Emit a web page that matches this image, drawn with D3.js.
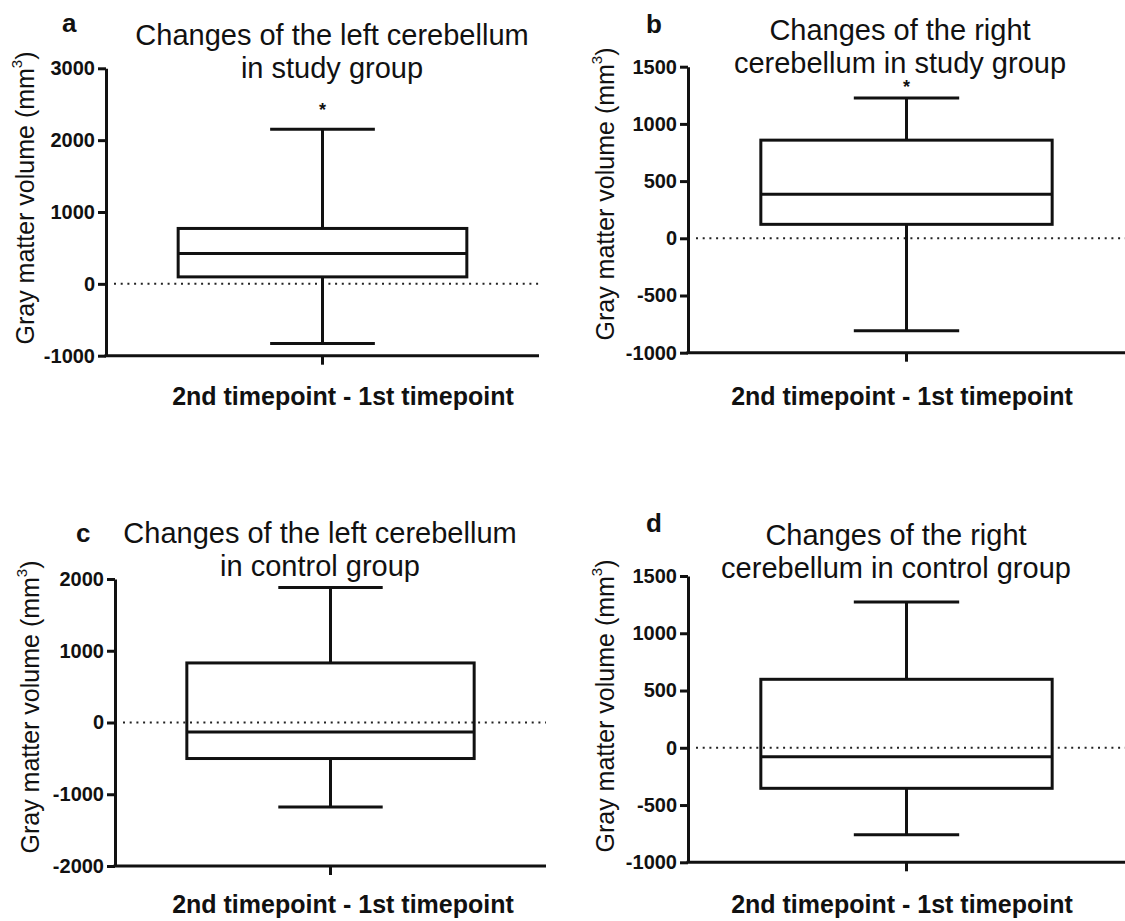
<html>
<head>
    <meta charset="utf-8">
    <title>Cerebellum gray matter volume changes</title>
    <style>
        body { margin: 0; background: #fff; }
        text { font-family: "Liberation Sans", Arial, sans-serif; fill: #111; }
    </style>
</head>
<body>
    <script src="https://d3js.org/d3.v7.min.js"></script>
    <script>
        var width = 1125, height = 921;

        // data
        const letters = ["a", "b", "c", "d"];
        const titles = [
            ["Changes of the left cerebellum", "in study group"],
            ["Changes of the right", "cerebellum in study group"],
            ["Changes of the left cerebellum", "in control group"],
            ["Changes of the right", "cerebellum in control group"]
        ];
        const category = "2nd timepoint - 1st timepoint";
        const mins = [-830, -809, -1176, -760];
        const q1s = [97, 122, -502, -354];
        const medians = [423, 384, -131, -78];
        const q3s = [771, 858, 830, 598];
        const maxs = [2150, 1227, 1881, 1272];
        const stars = [2490, 1366, null, null];
        const yDomains = [[-1000, 3000], [-1000, 1500], [-2000, 2000], [-1000, 1500]];
        const yTicks = [
            [-1000, 0, 1000, 2000, 3000],
            [-1000, -500, 0, 500, 1000, 1500],
            [-2000, -1000, 0, 1000, 2000],
            [-1000, -500, 0, 500, 1000, 1500]
        ];

        // where each panel sits on the page
        const layout = [
            { x0: 106, x1: 539, top: 68.3, bottom: 355.7, tx: 332, ty: 45, lx: 62, ly: 32, yx: 25, yy: 198, xx: 343, xy: 405 },
            { x0: 688, x1: 1125, top: 66.7, bottom: 352.7, tx: 900, ty: 40, lx: 646, ly: 33, yx: 605, yy: 194, xx: 902, xy: 405 },
            { x0: 115, x1: 546, top: 579, bottom: 866, tx: 320, ty: 543, lx: 76, ly: 542, yx: 30, yy: 707, xx: 343, xy: 913 },
            { x0: 688, x1: 1125, top: 576, bottom: 862.3, tx: 896, ty: 545, lx: 646, ly: 532, yx: 605, yy: 706, xx: 902, xy: 913 }
        ];

        var svg = d3.select("body").append("svg")
            .attr("width", width)
            .attr("height", height);

        for (var i = 0; i < 4; i++) {
            var L = layout[i];
            var g = svg.append("g");

            var y = d3.scaleLinear().domain(yDomains[i]).range([L.bottom, L.top]);
            var x = d3.scaleBand().domain([category]).range([L.x0, L.x1]).padding(0.2);
            var cx = x(category) + x.bandwidth() / 2;
            var capW = x.bandwidth() * 0.245;

            // zero line
            g.append("line")
                .attr("x1", L.x0 + 8).attr("x2", L.x1)
                .attr("y1", y(0)).attr("y2", y(0))
                .attr("stroke", "#222").attr("stroke-width", 2)
                .attr("stroke-dasharray", "2,4.7");

            // y axis
            var yAxis = g.append("g")
                .attr("transform", "translate(" + L.x0 + ",0)")
                .call(d3.axisLeft(y).tickValues(yTicks[i]).tickFormat(function (d) { return String(d); })
                    .tickSize(8).tickSizeOuter(0).tickPadding(3));
            yAxis.select(".domain").attr("stroke", "#111").attr("stroke-width", 3);
            yAxis.selectAll(".tick line").attr("stroke", "#111").attr("stroke-width", 3);
            yAxis.selectAll(".tick text")
                .attr("font-size", "20px").attr("font-weight", "bold")
                .attr("font-family", "Liberation Sans, Arial, sans-serif").attr("fill", "#111");

            // x axis
            var xAxis = g.append("g")
                .attr("transform", "translate(0," + L.bottom + ")")
                .call(d3.axisBottom(x).tickSize(9).tickSizeOuter(0).tickFormat(""));
            xAxis.select(".domain").attr("stroke", "#111").attr("stroke-width", 3)
                .attr("d", "M" + (L.x0 - 1.5) + ",0H" + L.x1);
            xAxis.selectAll(".tick line").attr("stroke", "#111").attr("stroke-width", 3);

            // whiskers
            g.append("line").attr("x1", cx).attr("x2", cx)
                .attr("y1", y(maxs[i])).attr("y2", y(q3s[i]))
                .attr("stroke", "#111").attr("stroke-width", 3);
            g.append("line").attr("x1", cx).attr("x2", cx)
                .attr("y1", y(q1s[i])).attr("y2", y(mins[i]))
                .attr("stroke", "#111").attr("stroke-width", 3);
            [maxs[i], mins[i]].forEach(function (v) {
                g.append("line").attr("x1", cx - capW / 2 - 17).attr("x2", cx + capW / 2 + 17)
                    .attr("y1", y(v)).attr("y2", y(v))
                    .attr("stroke", "#111").attr("stroke-width", 3);
            });

            // box
            g.append("rect")
                .attr("x", x(category)).attr("width", x.bandwidth())
                .attr("y", y(q3s[i])).attr("height", y(q1s[i]) - y(q3s[i]))
                .attr("fill", "none").attr("stroke", "#111").attr("stroke-width", 3);
            g.append("line")
                .attr("x1", x(category)).attr("x2", x(category) + x.bandwidth())
                .attr("y1", y(medians[i])).attr("y2", y(medians[i]))
                .attr("stroke", "#111").attr("stroke-width", 3);

            if (stars[i] != null) {
                g.append("text").attr("x", cx).attr("y", y(stars[i]) + 11)
                    .attr("text-anchor", "middle")
                    .attr("font-size", "18px").attr("font-weight", "bold")
                    .text("*");
            }

            // titles
            g.selectAll(".title")
                .data(titles[i])
                .enter()
                .append("text")
                .attr("x", L.tx)
                .attr("y", function (d, k) { return L.ty + k * 33; })
                .attr("text-anchor", "middle")
                .attr("font-size", "29px")
                .text(function (d) { return d; });

            g.append("text").attr("x", L.lx).attr("y", L.ly)
                .attr("font-size", "26px").attr("font-weight", "bold")
                .text(letters[i]);

            // axis labels
            g.append("text").attr("x", L.xx).attr("y", L.xy)
                .attr("text-anchor", "middle")
                .attr("font-size", "25px").attr("font-weight", "bold")
                .text(category);

            var yl = g.append("text")
                .attr("transform", "translate(" + L.yx + "," + L.yy + ") rotate(-90)")
                .attr("text-anchor", "middle")
                .attr("dominant-baseline", "central")
                .attr("font-size", "25px");
            yl.append("tspan").text("Gray matter volume (mm");
            yl.append("tspan").attr("font-size", "15px").attr("dy", "-9").text("3");
            yl.append("tspan").attr("dy", "9").text(")");
        }
    </script>
</body>
</html>
